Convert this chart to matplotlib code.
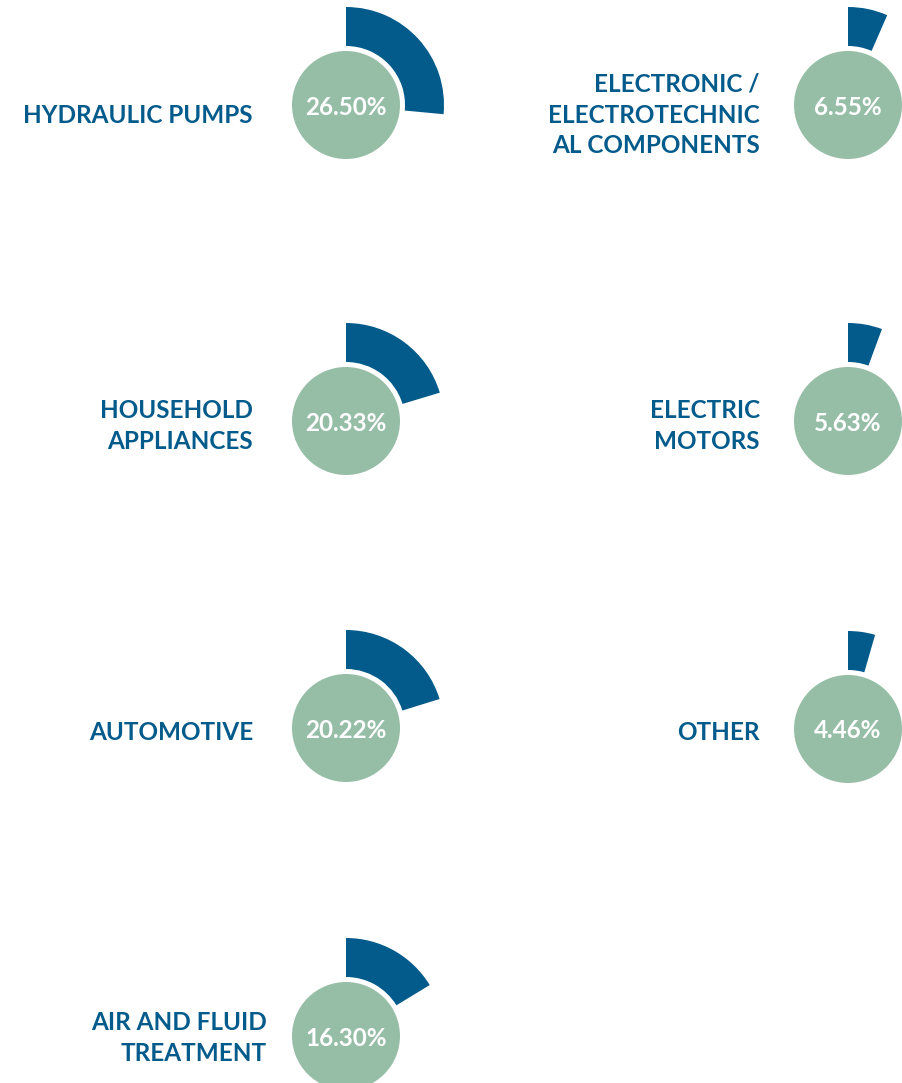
import matplotlib
matplotlib.use('Agg')
import matplotlib.pyplot as plt
from matplotlib.patches import Circle

# data
categories = ['HYDRAULIC PUMPS', 'HOUSEHOLD\nAPPLIANCES', 'AUTOMOTIVE',
              'AIR AND FLUID\nTREATMENT', 'ELECTRONIC /\nELECTROTECHNIC\nAL COMPONENTS',
              'ELECTRIC\nMOTORS', 'OTHER']
shares = [26.50, 20.33, 20.22, 16.30, 6.55, 5.63, 4.46]

# layout (pixels, y measured from top)
W, H = 903, 1083
centers = [(346, 105), (346, 421), (346, 728), (346, 1036),
           (848, 105), (848, 421), (848, 729)]
label_x = [253, 253, 253, 267, 760, 760, 760]
label_y = [115, 426, 732, 1038, 115, 426, 732]

BLUE = '#035b8c'
GREEN = '#96bea7'

fig = plt.figure(figsize=(W / 100, H / 100), dpi=100)
ax = fig.add_axes([0, 0, 1, 1])

for i, s in enumerate(shares):
    cx, cy = centers[i]
    cy = H - cy
    wedges, _ = ax.pie([s, 100 - s], startangle=90, counterclock=False,
                       radius=98, center=(cx, cy), colors=[BLUE, 'white'],
                       wedgeprops=dict(width=39, linewidth=0), frame=True)
    wedges[1].set_visible(False)
    ax.add_patch(Circle((cx, cy), 54, facecolor=GREEN, edgecolor='none', zorder=3))
    ax.text(cx, cy - 2, '%.2f%%' % s, ha='center', va='center', color='white',
            fontsize=17.5, fontweight='bold', family='Lato', zorder=4)
    ax.text(label_x[i], H - label_y[i], categories[i], ha='right', va='center',
            color=BLUE, fontsize=17.5, fontweight='bold', family='Lato',
            linespacing=1.42, multialignment='right')

ax.set_xlim(0, W)
ax.set_ylim(0, H)
ax.set_aspect('equal')
ax.axis('off')
fig.savefig('out.png', dpi=100)
